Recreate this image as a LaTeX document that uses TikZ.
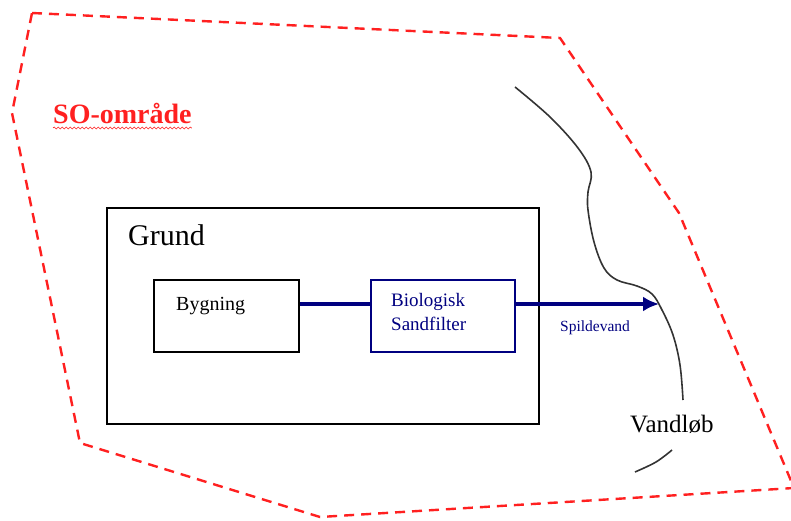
\documentclass[tikz,border=0pt]{standalone}
\usepackage{fontspec}
\setmainfont{Liberation Serif}
\usetikzlibrary{arrows.meta, calc, decorations.pathmorphing}
\definecolor{so}{HTML}{FF2020}
\definecolor{flod}{HTML}{000080}
\tikzset{omraade/.style = {line width=2.4pt, so, dash pattern=on 10pt off 7pt}}
\tikzset{kasse/.style = {draw, line width=1.7pt, inner sep=0pt}}
\tikzset{flow/.style = {line width=3.4pt, flod}}
\tikzset{aa/.style = {line width=1.6pt, black!80}}

\begin{document}
\begin{tikzpicture}[x=1pt, y=-1pt]
		\useasboundingbox (0, 0) rectangle (791, 521);
		\draw[omraade] (32, 13) -- (560, 38) -- (679, 213) -- (794, 488) -- (320, 517) -- (80, 443) -- (12, 113) -- cycle;
		\node[anchor=base west, so, font=\bfseries\fontsize{28}{32}\selectfont, inner sep=0pt] (so) at (53, 124) {SO-område};
		\draw[so, line width=0.6pt, decorate, decoration={snake, segment length=4pt, amplitude=1pt}] ($(so.base west)+(0, 4)$) -- ($(so.base east)+(0, 4)$);
		\node[kasse, minimum width=432pt, minimum height=216pt] (grund) at (323, 316) {};
		\node[anchor=base west, inner sep=0pt, font=\fontsize{30}{36}\selectfont] (grundtxt) at (128, 245) {Grund};
		\node[kasse, minimum width=145pt, minimum height=72pt] (byg) at (226.5, 316) {};
		\node[anchor=base west, inner sep=0pt, font=\fontsize{20}{24}\selectfont] (bygtxt) at (176, 310) {Bygning};
		\node[kasse, flod, minimum width=144pt, minimum height=72pt] (sand) at (443, 316) {};
		\node[anchor=north west, inner sep=0pt, flod, align=left, font=\fontsize{19}{24}\selectfont] (sandtxt) at (391, 293) {Biologisk\\Sandfilter};
		\coordinate (ror) at (0, 304);
		\coordinate (udlob) at (659, 304);
		\draw[flow] (byg.east |- ror) -- (sand.west |- ror);
		\draw[flow, -{Latex[length=16pt, width=15pt]}] (sand.east |- ror) -- (udlob);
		\node[anchor=base west, inner sep=0pt, flod, font=\fontsize{15.5}{18}\selectfont] (spild) at (560, 331) {Spildevand};
		\draw[aa] plot[smooth, tension=0.6] coordinates {(515, 87) (550, 117) (578, 148) (591, 172) (588, 192) (588, 210) (594, 242) (604, 268) (617, 280) (637, 286) (652, 294) (662, 310) (673, 335) (680, 365) (683, 400)};
		\draw[aa] plot[smooth, tension=0.6] coordinates {(672, 450) (656, 462) (635, 472)};
		\node[anchor=base west, inner sep=0pt, font=\fontsize{25}{30}\selectfont] (vand) at (630, 432) {Vandløb};
	\end{tikzpicture}
\end{document}
